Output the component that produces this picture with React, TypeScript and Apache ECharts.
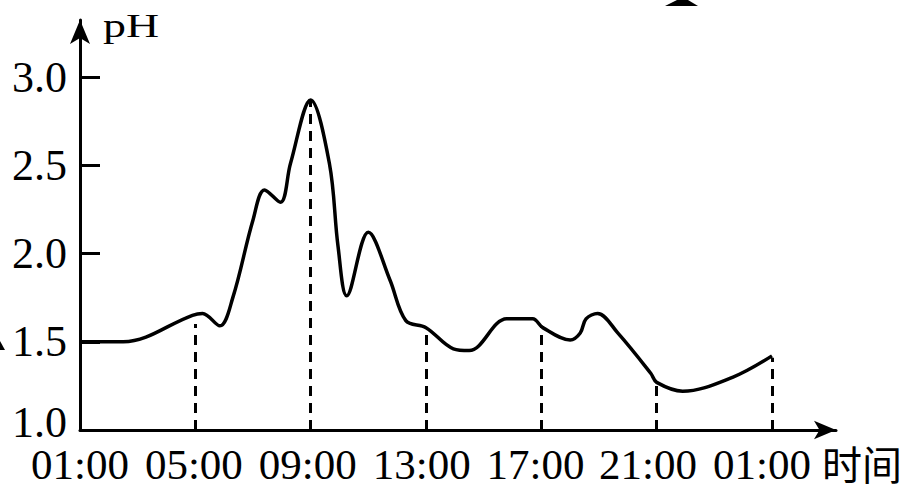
import { useEffect, useRef } from "react";
import * as echarts from "echarts";

// pH over one day (hour 25 = 01:00 next day)
const HOURS = [1, 2.5, 4.9, 5.25, 5.85, 6.3, 7.0, 7.4, 7.95, 8.3, 9.0, 9.65, 9.95, 10.25, 11.0, 11.75, 12.3, 13.0, 13.95, 14.5, 15.8, 16.7, 17.05, 18.0, 18.35, 18.55, 18.95, 19.65, 20.8, 21.0, 21.9, 23.65, 25];
const PH = [1.5, 1.5, 1.65, 1.66, 1.59, 1.75, 2.19, 2.36, 2.29, 2.51, 2.87, 2.51, 2.04, 1.76, 2.12, 1.85, 1.62, 1.58, 1.46, 1.45, 1.63, 1.63, 1.58, 1.51, 1.55, 1.63, 1.66, 1.55, 1.32, 1.27, 1.22, 1.3, 1.42];

// dashed drop lines
const DROP_HOURS = [5, 9, 13, 17, 21, 25];
const DROP_TOPS = [1.6, 2.87, 1.58, 1.59, 1.27, 1.41];

// the printed time labels sit a little left of the drop lines in the figure
const LABEL_AT = [1, 4.95, 8.9, 12.85, 16.8, 20.7, 24.65];
const TICK_LABELS = ["01:00", "05:00", "09:00", "13:00", "17:00", "21:00", "01:00"];
const Y_LABELS = [1, 1.5, 2, 2.5, 3];
const Y_TICKS = [1.5, 2, 2.5, 3];

const SERIF = "'Liberation Serif', 'DejaVu Serif', serif";
const BLACK = "#000";

export default function App() {
  const ref = useRef<HTMLDivElement>(null);

  useEffect(() => {
    if (!ref.current) return;
    const chart = echarts.init(ref.current, undefined, { renderer: "svg" });
    chart.setOption({
      animation: false,
      backgroundColor: "#fff",
      grid: { left: 80, right: 70, top: 20, bottom: 61 },
      xAxis: {
        type: "value", min: 1, max: 27.22,
        axisLine: { symbol: ["none", "arrow"], symbolSize: [14, 22], lineStyle: { color: BLACK, width: 3 } },
        axisTick: { show: false },
        splitLine: { show: false },
        axisLabel: {
          customValues: LABEL_AT,
          formatter: (v: number) => TICK_LABELS[LABEL_AT.indexOf(v)] ?? "",
          color: BLACK, fontFamily: SERIF, fontSize: 43, margin: 13,
        },
      },
      yAxis: {
        type: "value", min: 1, max: 3.323,
        axisLine: { symbol: ["none", "arrow"], symbolSize: [15, 24], lineStyle: { color: BLACK, width: 3 } },
        axisTick: { show: true, inside: true, length: 20, customValues: Y_TICKS, lineStyle: { color: BLACK, width: 3 } },
        splitLine: { show: false },
        axisLabel: {
          customValues: Y_LABELS,
          formatter: (v: number) => (v === 1 ? "{lo|1.0}" : v.toFixed(1)),
          rich: { lo: { fontFamily: SERIF, fontSize: 44, color: BLACK, padding: [0, 0, 16, 0] } },
          color: BLACK, fontFamily: SERIF, fontSize: 44, margin: 13,
        },
      },
      series: [{
        type: "line", smooth: 0.35, symbol: "none",
        lineStyle: { color: BLACK, width: 3.5 },
        data: HOURS.map((h, i) => [h, PH[i]]),
        markLine: {
          silent: true, symbol: ["none", "none"], label: { show: false },
          lineStyle: { type: [10, 7], width: 3, color: BLACK },
          data: DROP_HOURS.map((h, i) => [{ coord: [h, 1] }, { coord: [h, DROP_TOPS[i]] }]),
        },
      }],
      graphic: [
        { type: "text", left: 103, top: 9, scaleX: 1.35, style: { text: "pH", font: `34px ${SERIF}`, fill: BLACK } },
        { type: "text", left: 822, top: 443, style: { text: "时间", font: "40px 'Noto Sans CJK SC'", fill: BLACK } },
        { type: "polygon", shape: { points: [[677, 0], [688, 0], [698, 6], [665, 6]] }, style: { fill: BLACK } },
        { type: "polygon", shape: { points: [[0, 341], [5, 350], [0, 350]] }, style: { fill: BLACK } },
      ],
    });
    return () => chart.dispose();
  }, []);

  return <div ref={ref} style={{ position: "absolute", left: 0, top: 0, width: 906, height: 491 }} />;
}
